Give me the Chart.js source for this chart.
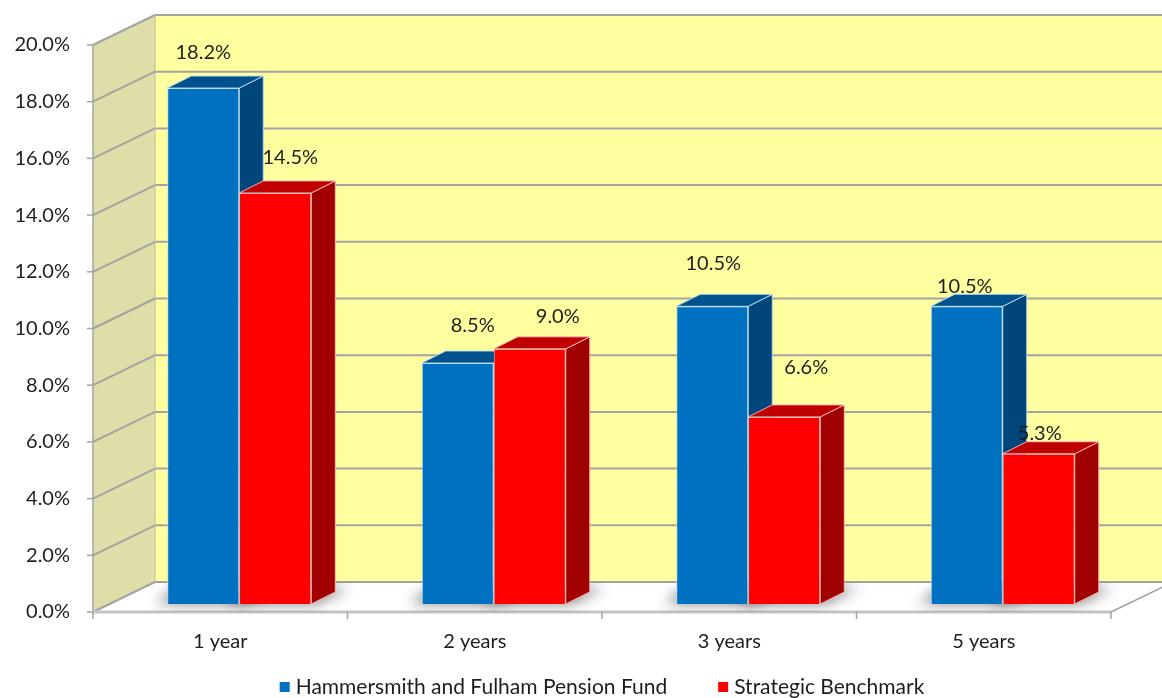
<!DOCTYPE html>
<html>
<head>
<meta charset="utf-8">
<title>Returns</title>
<script src="https://cdn.jsdelivr.net/npm/chart.js@4.4.1/dist/chart.umd.min.js"></script>
<style>
  html, body { margin: 0; padding: 0; background: #fff; }
  #wrap { width: 1162px; height: 698px; position: relative; }
</style>
</head>
<body>
<div id="wrap"><canvas id="returns"></canvas></div>
<script>
// data
var periods = ['1 year', '2 years', '3 years', '5 years'];
var fundReturns = [18.2, 8.5, 10.5, 10.5];
var benchmarkReturns = [14.5, 9.0, 6.6, 5.3];
var seriesNames = ['Hammersmith and Fulham Pension Fund', 'Strategic Benchmark'];
var yMin = 0, yMax = 20, yStep = 2;

// look
var FONT = {family: 'Lato, "Open Sans", sans-serif', size: 20};
var LEGEND_FONT = '21px Lato, "Open Sans", sans-serif';
var TEXT = '#1e1e1e';
var GRID = '#a3a3a3';
var FRONT = {dx: -19, dy: 8};      // axis plane sits in front of the bar faces
var WALL = {dx: 62, dy: -30};      // depth of the box
var DEPTH = {dx: 24, dy: -12};     // depth of a bar
var faces = [
	{front: '#0070c0', top: '#00528c', side: '#00467a', edge: 'rgba(190,220,245,0.9)'},
	{front: '#ff0000', top: '#c00000', side: '#a00000', edge: 'rgba(255,190,190,0.9)'}
];
// where each value label sits, relative to the top of its bar
var labelNudge = [
	[[0, -35], [15, -37], [1, -43], [-2, -20]],
	[[15, -35], [28, -32], [22, -49], [1, -20]]
];

var poly = function(ctx, pts, fill, stroke, lw)
{
	ctx.beginPath();
	ctx.moveTo(pts[0][0], pts[0][1]);
	for (var i = 1; i < pts.length; i++) ctx.lineTo(pts[i][0], pts[i][1]);
	ctx.closePath();
	if (fill) { ctx.fillStyle = fill; ctx.fill(); }
	if (stroke) { ctx.strokeStyle = stroke; ctx.lineWidth = lw || 1; ctx.stroke(); }
};
var line = function(ctx, x1, y1, x2, y2, color, lw)
{
	ctx.beginPath();
	ctx.moveTo(x1, y1);
	ctx.lineTo(x2, y2);
	ctx.strokeStyle = color;
	ctx.lineWidth = lw || 1;
	ctx.stroke();
};

// side and top faces of one dataset's bars
var drawSides = function(chart, di)
{
	var ctx = chart.ctx, f = faces[di];
	ctx.save();
	chart.getDatasetMeta(di).data.forEach(function(bar) {
		var l = bar.x - bar.width / 2, r = bar.x + bar.width / 2, t = bar.y, b = bar.base;
		poly(ctx, [[r, t], [r + DEPTH.dx, t + DEPTH.dy], [r + DEPTH.dx, b + DEPTH.dy], [r, b]], f.side, f.edge, 1);
		poly(ctx, [[l, t], [l + DEPTH.dx, t + DEPTH.dy], [r + DEPTH.dx, t + DEPTH.dy], [r, t]], f.top, f.edge, 1);
	});
	ctx.restore();
};

// walls, floor, gridlines and shadows under the bars
var boxPlugin = {
	id: 'box',
	beforeDatasetsDraw: function(chart) {
		var ctx = chart.ctx, xs = chart.scales.x, ys = chart.scales.y;
		var x0 = xs.left + FRONT.dx, x1 = xs.right + FRONT.dx;
		var yb = ys.getPixelForValue(yMin) + FRONT.dy, yt = ys.getPixelForValue(yMax) + FRONT.dy;
		ctx.save();
		// side wall
		poly(ctx, [[x0, yb], [x0, yt], [x0 + WALL.dx, yt + WALL.dy], [x0 + WALL.dx, yb + WALL.dy]], '#dfdda8');
		// back wall
		poly(ctx, [[x0 + WALL.dx, yt + WALL.dy], [x1 + WALL.dx, yt + WALL.dy], [x1 + WALL.dx, yb + WALL.dy], [x0 + WALL.dx, yb + WALL.dy]], '#ffff9f');
		// floor
		var floor = [[x0, yb], [x0 + WALL.dx, yb + WALL.dy], [x1 + WALL.dx, yb + WALL.dy], [x1, yb]];
		poly(ctx, floor, '#ffffff');
		// gridlines on both walls
		ys.ticks.forEach(function(t) {
			var y = ys.getPixelForValue(t.value) + FRONT.dy;
			line(ctx, x0, y, x0 + WALL.dx, y + WALL.dy, GRID, 2);
			line(ctx, x0 + WALL.dx, y + WALL.dy, x1 + WALL.dx + 10, y + WALL.dy, GRID, 2);
			line(ctx, x0 - 6, y, x0, y, GRID, 1.5);
		});
		line(ctx, x0 + WALL.dx, yt + WALL.dy, x0 + WALL.dx, yb + WALL.dy, '#b9b9a0', 1);
		line(ctx, x0, yt, x0, yb, GRID, 1.5);
		// floor edges
		line(ctx, x0, yb, x1, yb, '#c4c4c4', 3);
		line(ctx, x1, yb, x1 + WALL.dx, yb + WALL.dy, GRID, 1.5);
		for (var i = 0; i <= periods.length; i++) {
			var xt = xs.getPixelForValue(i - 0.5) + FRONT.dx;
			line(ctx, xt, yb, xt, yb + 7, GRID, 1.5);
		}
		// soft shadows on the floor
		ctx.save();
		ctx.beginPath();
		ctx.moveTo(floor[0][0], floor[0][1]);
		floor.slice(1).forEach(function(p) { ctx.lineTo(p[0], p[1]); });
		ctx.closePath();
		ctx.clip();
		ctx.filter = 'blur(7px)';
		chart.getSortedVisibleDatasetMetas().forEach(function(meta) {
			meta.data.forEach(function(bar) {
				var l = bar.x - bar.width / 2 - 12, r = bar.x + bar.width / 2 + 4, b = bar.base;
				poly(ctx, [[l, b - 1], [r, b - 1], [r + DEPTH.dx + 10, b + DEPTH.dy - 4], [l + DEPTH.dx, b + DEPTH.dy - 4]], 'rgba(0,0,0,0.55)');
			});
		});
		ctx.restore();
		ctx.restore();
		// the fund bars' sides go in first so the benchmark fronts cover them
		drawSides(chart, 0);
	},
	afterDatasetsDraw: function(chart) {
		drawSides(chart, 1);
	}
};

var valueLabels = {
	id: 'valueLabels',
	afterDatasetsDraw: function(chart) {
		var ctx = chart.ctx;
		ctx.save();
		ctx.font = FONT.size + 'px ' + FONT.family;
		ctx.fillStyle = TEXT;
		ctx.textAlign = 'center';
		ctx.textBaseline = 'middle';
		chart.data.datasets.forEach(function(ds, di) {
			chart.getDatasetMeta(di).data.forEach(function(bar, i) {
				var n = labelNudge[di][i];
				ctx.fillText(ds.data[i].toFixed(1) + '%', bar.x + n[0], bar.y + n[1]);
			});
		});
		ctx.restore();
	}
};

var bottomLegend = {
	id: 'bottomLegend',
	afterDraw: function(chart) {
		var ctx = chart.ctx, xs = chart.scales.x;
		var cx = (xs.left + xs.right) / 2 + FRONT.dx, y = 687;
		ctx.save();
		ctx.font = LEGEND_FONT;
		ctx.textBaseline = 'middle';
		var widths = seriesNames.map(function(s) { return 16 + ctx.measureText(s).width; });
		var total = widths[0] + widths[1] + 51;
		var x = cx - total / 2;
		seriesNames.forEach(function(s, i) {
			ctx.fillStyle = faces[i].front;
			ctx.fillRect(x, y - 5, 10, 10);
			ctx.fillStyle = TEXT;
			ctx.fillText(s, x + 16, y);
			x += widths[i] + 51;
		});
		ctx.restore();
	}
};

var chart = new Chart(document.getElementById('returns'), {
	type: 'bar',
	data: {
		labels: periods,
		datasets: [
			{label: seriesNames[0], data: fundReturns, backgroundColor: faces[0].front, borderColor: faces[0].edge, borderWidth: 1},
			{label: seriesNames[1], data: benchmarkReturns, backgroundColor: faces[1].front, borderColor: faces[1].edge, borderWidth: 1}
		]
	},
	options: {
		responsive: true,
		maintainAspectRatio: false,
		animation: false,
		layout: {padding: {top: 37, right: 32, left: 0, bottom: 0}},
		datasets: {bar: {categoryPercentage: 0.566, barPercentage: 1}},
		plugins: {legend: {display: false}, tooltip: {enabled: false}},
		scales: {
			x: {
				grid: {display: false, drawTicks: false},
				border: {display: false},
				ticks: {labelOffset: FRONT.dx, padding: 26, color: TEXT, font: FONT},
				afterFit: function(s) { s.height = 94; }
			},
			y: {
				min: yMin,
				max: yMax,
				grid: {display: false, drawTicks: false},
				border: {display: false},
				ticks: {
					stepSize: yStep,
					labelOffset: FRONT.dy,
					padding: 42,
					color: TEXT,
					font: FONT,
					callback: function(v) { return v.toFixed(1) + '%'; }
				},
				afterFit: function(s) {
					s.width = 112;
					// the big label padding must not push the plot area down
					s.paddingTop = 0;
					s.paddingBottom = 0;
				}
			}
		}
	},
	plugins: [boxPlugin, valueLabels, bottomLegend]
});
</script>
</body>
</html>
